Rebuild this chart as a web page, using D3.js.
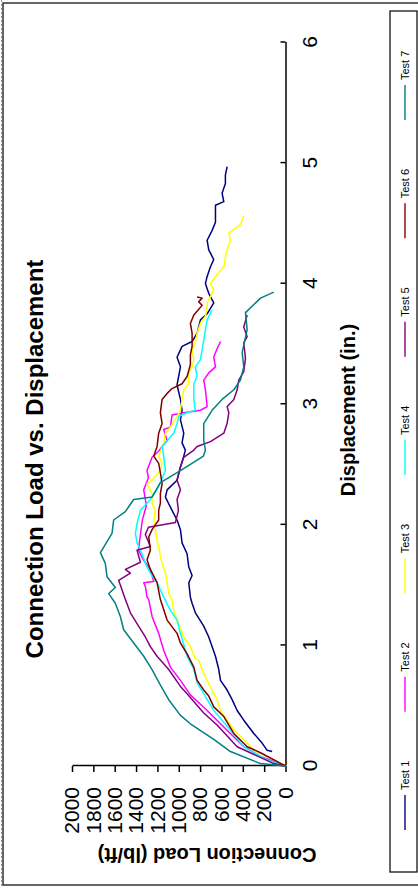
<!DOCTYPE html>
<html>
<head>
<meta charset="utf-8">
<script src="https://cdn.jsdelivr.net/npm/d3@7"></script>
<style>
  body { margin: 0; background: #fff; }
  svg { display: block; }
  text { font-family: "Liberation Sans", Arial, sans-serif; }
</style>
</head>
<body>
<svg id="chart" width="418" height="888"></svg>
<script>
const seriesNames = ["Test 1", "Test 2", "Test 3", "Test 4", "Test 5", "Test 6", "Test 7"];
const seriesColors = ["#000080", "#ff00ff", "#ffff00", "#00ffff", "#800080", "#800000", "#008080"];
const dispTicks = [0, 1, 2, 3, 4, 5, 6];
const loadTicks = [0, 200, 400, 600, 800, 1000, 1200, 1400, 1600, 1800, 2000];

// displacement (in.) / connection load (lb/ft)
const test1Disp = [0.12,0.13,0.19,0.27,0.38,0.46,0.55,0.63,0.71,0.80,0.91,0.99,1.07,1.16,1.27,1.35,1.40,1.52,1.58,1.65,1.76,1.85,1.96,2.04,2.12,2.23,2.29,2.37,2.48,2.57,2.62,2.68,2.76,2.87,2.95,3.04,3.16,3.31,3.39,3.48,3.52,3.59,3.70,3.75,3.84,3.92,4.00,4.06,4.14,4.20,4.28,4.36,4.44,4.51,4.65,4.68,4.75,4.83,4.90,4.97];
const test1Load = [125,172,219,297,391,453,500,547,609,625,656,688,719,766,844,875,891,906,875,906,922,969,984,1016,1063,1125,1109,1016,984,953,938,969,953,984,969,984,1016,984,1016,969,875,828,797,734,672,719,750,734,703,672,719,734,688,656,656,578,594,563,563,547];

const test2Disp = [0,0.08,0.16,0.27,0.35,0.46,0.59,0.71,0.82,0.96,1.10,1.24,1.38,1.40,1.49,1.52,1.53,1.63,1.71,1.79,1.92,2.04,2.16,2.29,2.39,2.45,2.56,2.61,2.65,2.70,2.79,2.81,2.91,2.93,2.95,2.98,3.12,3.20,3.26,3.31,3.39,3.46,3.52];
const test2Load = [0,234,391,516,609,734,891,984,1078,1141,1188,1250,1281,1297,1313,1328,1234,1266,1331,1378,1359,1341,1303,1328,1284,1297,1250,1188,1156,1109,1141,1078,1063,953,797,734,750,766,719,656,672,641,609];

const test3Disp = [0,0.08,0.13,0.22,0.30,0.38,0.46,0.55,0.63,0.71,0.80,0.88,0.89,0.99,1.07,1.18,1.29,1.38,1.43,1.52,1.60,1.68,1.74,1.82,1.87,1.96,2.04,2.12,2.18,2.26,2.34,2.37,2.45,2.51,2.57,2.68,2.76,2.81,2.90,2.95,3.04,3.12,3.17,3.26,3.31,3.37,3.45,3.52,3.59,3.67,3.73,3.81,3.84,3.89,3.95,4.00,4.06,4.14,4.22,4.28,4.36,4.42,4.44,4.49,4.56];
const test3Load = [0,172,297,391,484,547,609,641,688,734,781,813,844,891,953,1000,1047,1063,1094,1109,1125,1156,1172,1188,1203,1219,1234,1219,1250,1250,1297,1250,1172,1156,1188,1141,1125,1078,1016,984,969,953,906,906,875,859,875,844,828,797,750,734,734,703,672,703,656,578,563,547,516,531,500,422,391];

const test4Disp = [0,0.05,0.16,0.33,0.46,0.60,0.69,0.80,0.91,1.10,1.21,1.29,1.40,1.52,1.60,1.68,1.76,1.85,1.93,2.01,2.12,2.21,2.32,2.45,2.57,2.65,2.76,2.84,2.90,2.93,2.95,3.04,3.17,3.23,3.31,3.37,3.45,3.53,3.62,3.70,3.78];
const test4Load = [0,172,391,547,672,766,828,859,922,984,1016,1078,1141,1203,1266,1313,1344,1391,1406,1391,1359,1266,1188,1125,1141,1156,1047,1016,1000,922,844,859,859,828,844,797,781,766,750,734,688];

const test5Disp = [0,0.02,0.16,0.34,0.44,0.60,0.66,0.80,0.91,0.99,1.07,1.18,1.27,1.38,1.46,1.54,1.60,1.63,1.69,1.79,1.82,1.92,1.98,2.02,2.12,2.21,2.29,2.37,2.48,2.56,2.62,2.65,2.69,2.76,2.84,2.93,2.98,3.04,3.12,3.20,3.27,3.38,3.51,3.56,3.64,3.74];
const test5Load = [0,110,453,641,766,922,984,1094,1203,1266,1313,1391,1453,1500,1531,1563,1453,1500,1359,1391,1266,1313,1284,1031,1003,1016,984,1016,984,953,859,828,703,578,547,531,547,484,453,438,391,375,391,359,391,359];

const test6Disp = [0,0.11,0.16,0.27,0.41,0.49,0.58,0.63,0.71,0.82,0.93,1.02,1.10,1.21,1.38,1.52,1.63,1.71,1.79,1.90,1.96,2.04,2.12,2.18,2.26,2.34,2.43,2.51,2.57,2.65,2.76,2.84,2.93,3.04,3.09,3.13,3.17,3.23,3.28,3.33,3.41,3.48,3.59,3.67,3.74,3.82,3.85,3.88,3.89];
const test6Load = [0,234,359,484,578,672,719,766,828,859,922,984,1016,1109,1172,1203,1266,1297,1266,1281,1250,1188,1188,1172,1172,1156,1172,1188,1234,1203,1188,1156,1172,1156,1109,1063,969,922,906,891,891,875,875,891,859,781,813,781,828];

const test7Disp = [0,0.02,0.12,0.22,0.35,0.42,0.55,0.67,0.80,0.91,1.02,1.13,1.24,1.35,1.43,1.48,1.57,1.68,1.77,1.93,2.04,2.11,2.21,2.23,2.35,2.45,2.57,2.62,2.70,2.84,2.95,3.04,3.12,3.20,3.31,3.43,3.62,3.76,3.88,3.93];
const test7Load = [0,234,516,672,891,984,1094,1172,1250,1328,1422,1516,1547,1594,1656,1594,1672,1688,1734,1625,1610,1500,1422,1250,1172,984,769,750,766,766,688,594,484,422,391,406,359,375,234,110];

const dispData = [test1Disp, test2Disp, test3Disp, test4Disp, test5Disp, test6Disp, test7Disp];
const loadData = [test1Load, test2Load, test3Load, test4Load, test5Load, test6Load, test7Load];

document.addEventListener('DOMContentLoaded', drawChart);

function drawChart() {
  const svg = d3.select("#chart");
  const W = 888; // the chart is laid out landscape, then turned a quarter left

  const series = seriesNames.map((name, i) => ({
    name,
    color: seriesColors[i],
    points: dispData[i].map((d, j) => [d, loadData[i][j]])
  }));

  // faint dashed edge of the scanned page
  svg.append("line")
    .attr("x1", 1.5).attr("x2", 1.5)
    .attr("y1", 0).attr("y2", 888)
    .attr("stroke", "#999")
    .attr("stroke-dasharray", "2,2");

  const g = svg.append("g")
    .attr("transform", `translate(0,${W}) rotate(-90)`);

  // outer chart frame
  g.append("rect")
    .attr("x", 3).attr("y", 3)
    .attr("width", 882).attr("height", 430)
    .attr("fill", "none")
    .attr("stroke", "#333")
    .attr("stroke-width", 1.5);

  const x = d3.scaleLinear().domain([0, 6]).range([122, 845.5]);
  const y = d3.scaleLinear().domain([0, 2000]).range([285.5, 72]);

  // displacement axis, ticks inside
  const xAxis = g.append("g")
    .attr("transform", `translate(0,${y(0)})`)
    .call(d3.axisBottom(x).tickValues(dispTicks).tickFormat(d3.format("d"))
      .tickSizeInner(-5).tickSizeOuter(0).tickPadding(17));
  xAxis.selectAll("text")
    .style("font-size", "21px")
    .attr("fill", "#000");

  // load axis, ticks outside
  const yAxis = g.append("g")
    .attr("transform", `translate(${x(0)},0)`)
    .call(d3.axisLeft(y).tickValues(loadTicks).tickFormat(d3.format("d"))
      .tickSizeInner(6).tickSizeOuter(0).tickPadding(15));
  yAxis.selectAll("text")
    .style("font-size", "21px")
    .attr("fill", "#000");

  g.selectAll(".domain, .tick line")
    .attr("stroke", "#000")
    .attr("stroke-width", 1.5);

  const line = d3.line()
    .x(d => x(d[0]))
    .y(d => y(d[1]));

  g.append("g")
    .selectAll("path")
    .data(series)
    .enter()
    .append("path")
    .attr("d", d => line(d.points))
    .attr("fill", "none")
    .attr("stroke", d => d.color)
    .attr("stroke-width", 1.5)
    .attr("stroke-linejoin", "round");

  // titles
  g.append("text")
    .attr("x", 429).attr("y", 43)
    .attr("text-anchor", "middle")
    .style("font-size", "24px")
    .style("font-weight", "bold")
    .text("Connection Load vs. Displacement");

  g.append("text")
    .attr("x", 478).attr("y", 355)
    .attr("text-anchor", "middle")
    .style("font-size", "20px")
    .style("font-weight", "bold")
    .text("Displacement (in.)");

  g.append("text")
    .attr("transform", `translate(40,207) rotate(-90)`)
    .attr("text-anchor", "middle")
    .style("font-size", "20px")
    .style("font-weight", "bold")
    .text("Connection Load (lb/ft)");

  // legend
  g.append("rect")
    .attr("x", 16).attr("y", 390)
    .attr("width", 861).attr("height", 27)
    .attr("fill", "none")
    .attr("stroke", "#000")
    .attr("stroke-width", 1.2);

  const legendX = d3.scalePoint().domain(seriesNames).range([58, 768]);

  const item = g.append("g")
    .selectAll("g")
    .data(series)
    .enter()
    .append("g")
    .attr("transform", d => `translate(${legendX(d.name)},405)`);

  item.append("line")
    .attr("x1", 0).attr("x2", 35)
    .attr("stroke", d => d.color)
    .attr("stroke-width", 1.4);

  item.append("text")
    .attr("x", 40)
    .attr("dy", "0.35em")
    .style("font-size", "11px")
    .text(d => d.name);
}
</script>
</body>
</html>
